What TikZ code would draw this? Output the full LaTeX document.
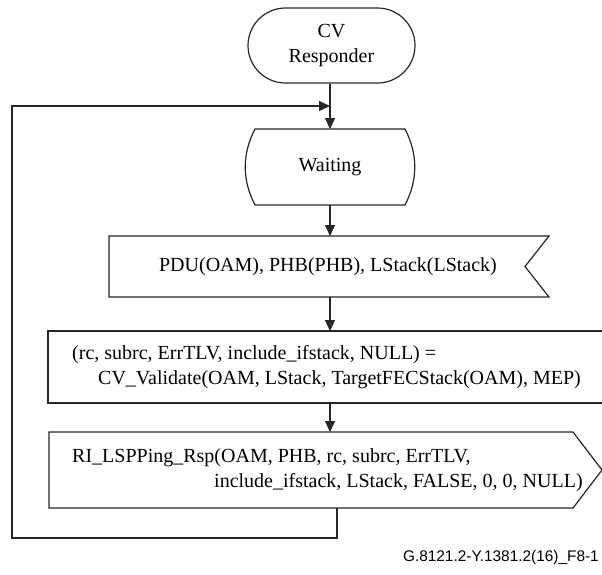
\documentclass[tikz,border=0pt]{standalone}
\usepackage{fontspec}
\setmainfont{Liberation Serif}
\newfontfamily\labelfont{Liberation Sans}
\usetikzlibrary{arrows.meta,shapes.misc}

\tikzset{
  line/.style={line width=1.2pt, draw=black!85},
  flow/.style={line, -{Triangle[length=11pt,width=10pt]}},
  frame/.style={minimum width=#1, inner sep=0pt, outer sep=0pt},
  txt/.style={font=\fontsize{20}{25}\selectfont, inner sep=0pt, align=left},
}

\begin{document}
\begin{tikzpicture}[x=1pt,y=-1pt]
  \useasboundingbox (0,0) rectangle (602,574);
  \clip (0,0) rectangle (602,574);

  % start terminator
  \node[line, rounded rectangle, minimum width=167, minimum height=75, inner sep=0pt,
        txt, align=center] (start) at (331.5,45.5) {CV\\Responder};

  % waiting state with bulging sides
  \node[frame=166, minimum height=76] (wait) at (330,167) {};
  \draw[line] ([xshift=8]wait.north west) -- ([xshift=-8]wait.north east)
    .. controls ([xshift=5]wait.north east |- 0,154) and ([xshift=5]wait.south east |- 0,180) .. ([xshift=-8]wait.south east)
    -- ([xshift=8]wait.south west)
    .. controls ([xshift=-5]wait.south west |- 0,180) and ([xshift=-5]wait.north west |- 0,154) .. cycle;
  \node[txt] (waittext) at (wait.center) {Waiting};

  % input signal
  \node[frame=440, minimum height=61] (pdu) at (329,266.5) {};
  \draw[line] (pdu.north west) -- (pdu.north east) -- ([xshift=-24]pdu.east)
    -- (pdu.south east) -- (pdu.south west) -- cycle;
  \node[txt] (pdutext) at (328,266.5) {PDU(OAM), PHB(PHB), LStack(LStack)};

  % validation task
  \node[line, frame=592, minimum height=72] (val) at (344,367) {};
  \node[txt, anchor=west] (valtext) at (72,367)
    {(rc, subrc, ErrTLV, include\_ifstack, NULL) =\\
     \hspace*{26pt}CV\_Validate(OAM, LStack, TargetFECStack(OAM), MEP)};

  % output signal
  \node[frame=524, minimum height=76] (ri) at (311,470) {};
  \draw[line] (ri.north west) -- (ri.north east) -- ([xshift=29]ri.east)
    -- (ri.south east) -- (ri.south west) -- cycle;
  \node[txt, anchor=west] (ritext) at (72,470)
    {RI\_LSPPing\_Rsp(OAM, PHB, rc, subrc, ErrTLV,\\
     \hspace*{142pt}include\_ifstack, LStack, FALSE, 0, 0, NULL)};

  % connectors
  \coordinate (join) at (wait.north |- 0,106);
  \draw[flow] (start.south -| wait.north) -- (wait.north);
  \draw[flow] (wait.south) -- (wait.south |- pdu.north);
  \draw[flow] (wait.south |- pdu.south) -- (wait.south |- val.north);
  \draw[flow] (wait.south |- val.south) -- (wait.south |- ri.north);
  \coordinate (out) at ([xshift=26]ri.south);
  \draw[flow] (out) -- ++(0,30) -| (12,106) -- (join);

  % figure reference
  \node[font=\labelfont\fontsize{15.4}{18}\selectfont, anchor=east, inner sep=0pt]
    (figref) at (599,558) {G.8121.2-Y.1381.2(16)\_F8-1};
\end{tikzpicture}
\end{document}
